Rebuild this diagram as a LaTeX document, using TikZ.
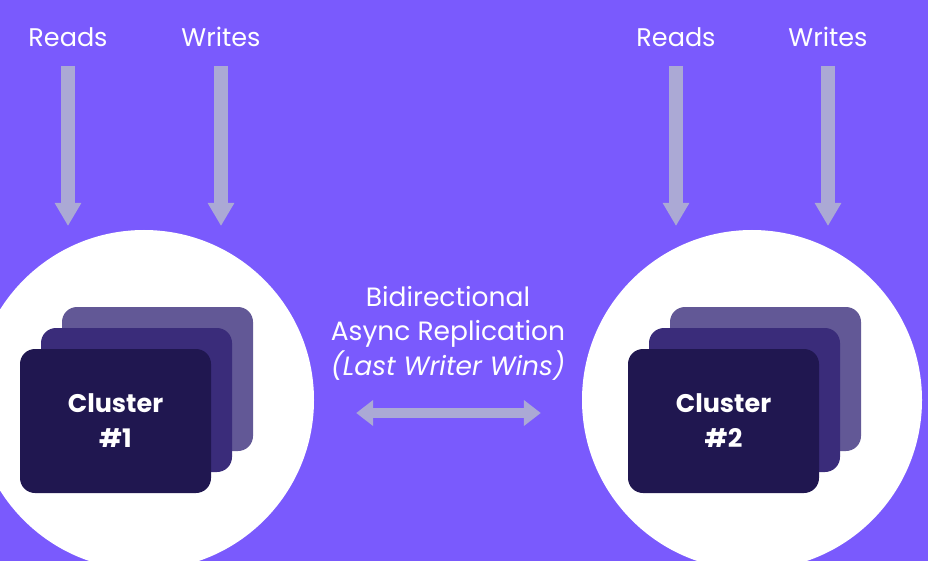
\documentclass[tikz,border=0pt]{standalone}
\usepackage{fontspec}
\setmainfont{Poppins}
\usetikzlibrary{arrows.meta}

\definecolor{bg}{HTML}{7A5AFD}
\definecolor{pipe}{HTML}{ABA9D5}
\definecolor{deep}{HTML}{201750}
\definecolor{mid}{HTML}{3A2C7A}
\definecolor{pale}{HTML}{625896}

\tikzset{
  lbl/.style={text=white, font=\fontsize{25.5}{34.5}\selectfont},
  feed/.style={pipe, line width=13.5pt, -{Triangle[length=23pt, width=25pt]}},
  sync/.style={pipe, line width=10pt, {Triangle[length=17pt, width=25pt]}-{Triangle[length=17pt, width=25pt]}},
  card/.style={rounded corners=15pt, minimum width=191pt, minimum height=144pt, inner sep=0pt},
  site/.style={circle, fill=white, minimum size=340pt, inner sep=0pt}
}

\begin{document}
\begin{tikzpicture}[x=1pt, y=-1pt]
\clip (0,0) rectangle (928,561);
\fill[bg] (0,0) rectangle (928,561);

% Sites
\node[site] (site1) at (144,400) {};
\node[site] (site2) at (752,400) {};

% Cluster stacks, back to front
\foreach \i/\x in {1/115.5, 2/723.5} {
  \coordinate (c\i) at (\x,421);
  \node[card, fill=pale] (back\i) at ([shift={(42,-42)}]c\i) {};
  \node[card, fill=mid] (mid\i) at ([shift={(21,-21)}]c\i) {};
  \node[card, fill=deep, text=white, align=center,
        font=\fontsize{25.5}{35}\selectfont\bfseries] (front\i) at (c\i) {Cluster\\\#\i};
}

% Labels
\node[lbl] (reads1) at (68,37) {Reads};
\node[lbl] (writes1) at (221,37) {Writes};
\node[lbl] (reads2) at (676,37) {Reads};
\node[lbl] (writes2) at (828,37) {Writes};
\node[lbl, align=center, font=\fontsize{26.5}{34.5}\selectfont] (repl) at (448,333)
  {Bidirectional\\Async Replication\\\textit{(Last Writer Wins)}};

% Links
\foreach \n/\x in {reads1/68, writes1/221, reads2/676, writes2/828} {
  \coordinate (\n top) at (\x,66);
  \coordinate (\n tip) at (\x,226);
  \draw[feed] (\n top) -- (\n tip);
}
\draw[sync, shorten <=42pt, shorten >=41pt] ([yshift=-13pt]site1.east) -- ([yshift=-13pt]site2.west);
\end{tikzpicture}
\end{document}
